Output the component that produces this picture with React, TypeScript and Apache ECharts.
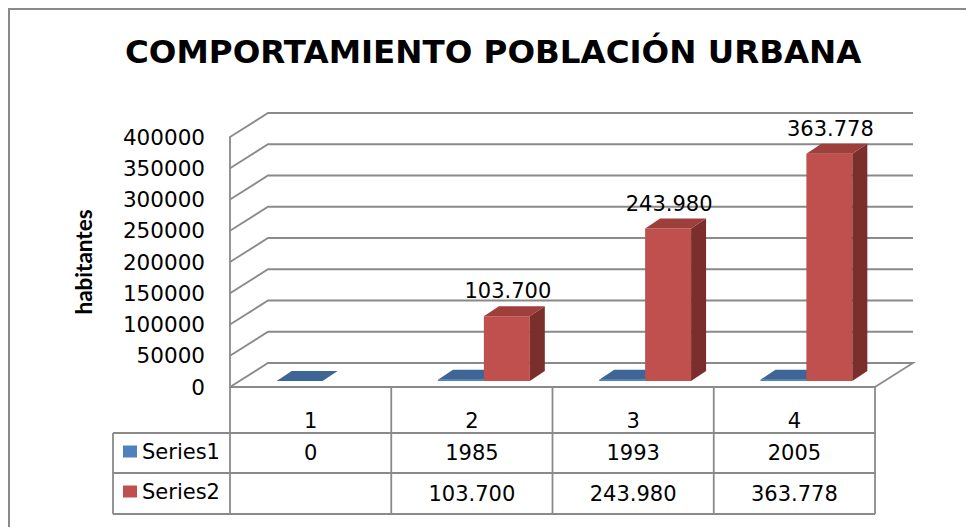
import React, { useEffect, useRef } from 'react';
import * as echarts from 'echarts';

// ---- data ----
const TITLE = 'COMPORTAMIENTO POBLACIÓN URBANA';
const Y_NAME = 'habitantes';
const CATEGORIES = ['1', '2', '3', '4'];
const SERIES_NAMES = ['Series1', 'Series2'];
const SERIES1: number[] = [0, 1985, 1993, 2005];
const SERIES2: (number | null)[] = [null, 103700, 243980, 363778];
const Y_MIN = 0;
const Y_MAX = 400000;
const Y_STEP = 50000;
const Y_TICKS = [0, 50000, 100000, 150000, 200000, 250000, 300000, 350000, 400000];

// ---- style / layout ----
const FONT = 'DejaVu Sans';
const LINE = '#8a8a8a';
const LW = 1.8;
const GRID = { left: 230, right: 91, top: 137, bottom: 140 };
const WALL_DX = 38;
const WALL_DY = -24;
const BAR_FRAC = 0.285;
const BAR_SHIFT_X = 12;
const BAR_SHIFT_Y = -6;
const BAR_DX = 15;
const BAR_DY = -10;
const TABLE_TOP = 387;
const ROW1 = 433;
const ROW2 = 473;
const ROW3 = 514;
const LEGEND_LEFT = 113;
const TABLE_RIGHT = 875;

const COLORS = [
  { front: '#4f81bd', top: '#3d6697', side: '#2f4f78' },
  { front: '#c0504d', top: '#9e3f3c', side: '#7b2f2d' },
];

const fmt = (v: number | null | undefined) =>
  v == null || isNaN(v as number) ? '' : String(v).replace(/\B(?=(\d{3})+(?!\d))/g, '.');

const makeBarRender = (s: number, withLabel: boolean) => (params: any, api: any) => {
  const i = api.value(0);
  const v = api.value(1);
  if (v == null || isNaN(v)) return null;
  const base = api.coord([i, 0]);
  const top = api.coord([i, v]);
  const band = api.size([1, 0])[0];
  const w = band * BAR_FRAC;
  const xl = base[0] + BAR_SHIFT_X - w + s * w;
  const xr = xl + w;
  const yb = base[1] + BAR_SHIFT_Y;
  const yt = top[1] + BAR_SHIFT_Y;
  const c = COLORS[s];
  const children: any[] = [
    { type: 'polygon', shape: { points: [[xl, yt], [xr, yt], [xr, yb], [xl, yb]] }, style: { fill: c.front } },
    { type: 'polygon', shape: { points: [[xr, yt], [xr + BAR_DX, yt + BAR_DY], [xr + BAR_DX, yb + BAR_DY], [xr, yb]] }, style: { fill: c.side } },
    { type: 'polygon', shape: { points: [[xl, yt], [xl + BAR_DX, yt + BAR_DY], [xr + BAR_DX, yt + BAR_DY], [xr, yt]] }, style: { fill: c.top } },
  ];
  if (withLabel) {
    children.push({
      type: 'text',
      x: (xl + xr) / 2 + 1,
      y: yt - 25,
      style: { text: fmt(v), fill: '#000', font: `21px "${FONT}"`, align: 'center', verticalAlign: 'middle' },
    });
  }
  return { type: 'group', children };
};

export default function App() {
  const ref = useRef<HTMLDivElement>(null);
  useEffect(() => {
    if (!ref.current) return;
    const chart = echarts.init(ref.current, null, { renderer: 'svg' });
    const option: any = {
      animation: false,
      backgroundColor: '#fff',
      title: {
        text: TITLE,
        left: 120,
        top: 30,
        textStyle: { fontFamily: FONT, fontSize: 32.5, fontWeight: 'bold', color: '#000' },
      },
      legend: {
        data: SERIES_NAMES,
        orient: 'vertical',
        left: 118,
        top: 436,
        itemWidth: 14,
        itemHeight: 12,
        itemGap: 19,
        icon: 'rect',
        selectedMode: false,
        textStyle: { fontFamily: FONT, fontSize: 21, color: '#000' },
      },
      grid: GRID,
      xAxis: {
        type: 'category',
        data: CATEGORIES,
        axisLine: { show: true, lineStyle: { color: LINE, width: LW } },
        axisTick: { show: false },
        axisLabel: { margin: 34, verticalAlign: 'middle', fontFamily: FONT, fontSize: 21, color: '#000' },
        splitLine: { show: false },
      },
      yAxis: {
        type: 'value',
        min: Y_MIN,
        max: Y_MAX,
        interval: Y_STEP,
        name: Y_NAME,
        nameLocation: 'middle',
        nameRotate: 90,
        nameGap: 135,
        nameTextStyle: { fontFamily: 'Lato', fontSize: 22.5, fontWeight: 'bold', color: '#000' },
        axisLine: { show: true, lineStyle: { color: LINE, width: LW } },
        axisTick: { show: false },
        axisLabel: {
          margin: 25,
          padding: [8, 0, 0, 0],
          fontFamily: FONT,
          fontSize: 21.5,
          color: '#000',
          formatter: (v: number) => String(v),
        },
        splitLine: { show: false },
      },
      graphic: [
        { type: 'rect', silent: true, shape: { x: 9, y: 9, width: 1000, height: 600 }, style: { fill: 'none', stroke: LINE, lineWidth: 2 }, z: 0 },
        { type: 'line', silent: true, shape: { x1: LEGEND_LEFT, y1: ROW1, x2: TABLE_RIGHT, y2: ROW1 }, style: { stroke: LINE, lineWidth: LW } },
        { type: 'line', silent: true, shape: { x1: LEGEND_LEFT, y1: ROW2, x2: TABLE_RIGHT, y2: ROW2 }, style: { stroke: LINE, lineWidth: LW } },
        { type: 'line', silent: true, shape: { x1: LEGEND_LEFT, y1: ROW3, x2: TABLE_RIGHT, y2: ROW3 }, style: { stroke: LINE, lineWidth: LW } },
        { type: 'line', silent: true, shape: { x1: LEGEND_LEFT, y1: ROW1, x2: LEGEND_LEFT, y2: ROW3 }, style: { stroke: LINE, lineWidth: LW } },
        { type: 'line', silent: true, shape: { x1: GRID.left, y1: TABLE_TOP, x2: GRID.left, y2: ROW3 }, style: { stroke: LINE, lineWidth: LW } },
      ],
      series: [
        {
          type: 'custom',
          name: 'walls',
          z: 1,
          silent: true,
          data: Y_TICKS.map((v) => [0, v]),
          encode: { x: 0, y: 1 },
          renderItem: (params: any, api: any) => {
            const v = api.value(1);
            const y = api.coord([0, v])[1];
            const cs = params.coordSys;
            const x0 = cs.x;
            const x1 = cs.x + cs.width;
            const pts: number[][] = [[x0, y], [x0 + WALL_DX, y + WALL_DY], [x1 + WALL_DX, y + WALL_DY]];
            if (v === 0) pts.push([x1, y]);
            return { type: 'polyline', shape: { points: pts }, style: { stroke: LINE, lineWidth: LW, fill: null } };
          },
        },
        {
          type: 'custom',
          name: 'table',
          z: 2,
          silent: true,
          data: CATEGORIES.map((c, i) => [i, SERIES1[i], SERIES2[i] == null ? NaN : SERIES2[i]]),
          encode: { x: 0, y: 1 },
          renderItem: (params: any, api: any) => {
            const i = api.value(0);
            const cx = api.coord([i, 0])[0];
            const band = api.size([1, 0])[0];
            const xr = cx + band / 2;
            const s1 = api.value(1);
            const s2 = api.value(2);
            return {
              type: 'group',
              children: [
                { type: 'line', shape: { x1: xr, y1: TABLE_TOP, x2: xr, y2: ROW3 }, style: { stroke: LINE, lineWidth: LW } },
                { type: 'text', x: cx, y: (ROW1 + ROW2) / 2, style: { text: isNaN(s1) ? '' : String(s1), fill: '#000', font: `21px "${FONT}"`, align: 'center', verticalAlign: 'middle' } },
                { type: 'text', x: cx, y: (ROW2 + ROW3) / 2, style: { text: fmt(s2), fill: '#000', font: `21px "${FONT}"`, align: 'center', verticalAlign: 'middle' } },
              ],
            };
          },
        },
        {
          type: 'custom',
          name: SERIES_NAMES[0],
          z: 3,
          itemStyle: { color: COLORS[0].front },
          data: SERIES1.map((v, i) => [i, v]),
          encode: { x: 0, y: 1 },
          renderItem: makeBarRender(0, false),
        },
        {
          type: 'custom',
          name: SERIES_NAMES[1],
          z: 3,
          itemStyle: { color: COLORS[1].front },
          data: SERIES2.map((v, i) => (v == null ? null : [i, v])).filter((d) => d != null),
          encode: { x: 0, y: 1 },
          renderItem: makeBarRender(1, true),
        },
      ],
    };
    chart.setOption(option);
    return () => chart.dispose();
  }, []);
  return (
    <div
      ref={ref}
      style={{ position: 'fixed', left: 0, top: 0, width: 966, height: 527, background: '#fff' }}
    />
  );
}
